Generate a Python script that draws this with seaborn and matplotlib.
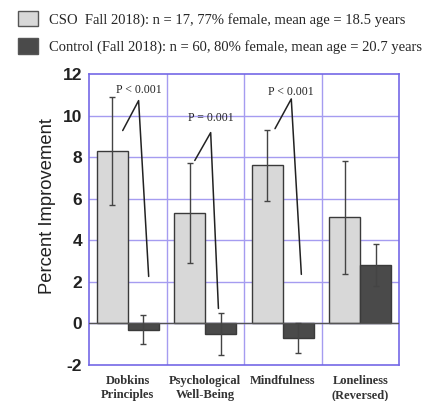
import matplotlib
matplotlib.use("Agg")
import matplotlib.pyplot as plt
import seaborn as sns
import pandas as pd
import numpy as np

categories = ["Dobkins\nPrinciples", "Psychological\nWell-Being", "Mindfulness", "Loneliness\n(Reversed)"]
groups = ["CSO", "Control"]
cso_values = [8.3, 5.3, 7.6, 5.1]
cso_errors = [2.6, 2.4, 1.7, 2.7]
control_values = [-0.3, -0.5, -0.7, 2.8]
control_errors = [0.7, 1.0, 0.7, 1.0]
legend_labels = ["CSO  Fall 2018): n = 17, 77% female, mean age = 18.5 years",
                 "Control (Fall 2018): n = 60, 80% female, mean age = 20.7 years"]
p_labels = ["P < 0.001", "P = 0.001", "P < 0.001"]
y_ticks = [-2, 0, 2, 4, 6, 8, 10, 12]

df = pd.DataFrame({
    "category": categories * 2,
    "group": [groups[0]] * 4 + [groups[1]] * 4,
    "value": cso_values + control_values,
})

sns.set_style("white")
fig = plt.figure(figsize=(4.38, 4.01), dpi=100)
ax = fig.add_axes([89/438, 1-365/401, (399-89)/438, (365-74)/401])

palette = {"CSO": "#d8d8d8", "Control": "#4a4a4a"}
sns.barplot(data=df, x="category", y="value", hue="group", palette=palette,
            order=categories, hue_order=groups, width=0.8, gap=0,
            edgecolor="#3a3a3a", linewidth=1.0, errorbar=None, ax=ax, zorder=3)

grid_c = "#a59cf0"
spine_c = "#7468e6"
ax.set_xlim(-0.5, 3.5)
ax.set_ylim(-2, 12)
ax.set_yticks(y_ticks)
for yv in y_ticks[1:-1]:
    ax.axhline(yv, color=grid_c, lw=1.0, zorder=1)
for xv in [0.5, 1.5, 2.5]:
    ax.axvline(xv, color=grid_c, lw=1.0, zorder=1)
ax.axhline(0, color="#555555", lw=1.0, zorder=4)
for s in ax.spines.values():
    s.set_color(spine_c)
    s.set_linewidth(1.2)
    s.set_visible(True)

# error bars from bar positions
bars = ax.patches[:8]
errs = cso_errors + control_errors
vals = cso_values + control_values
xs = [b.get_x() + b.get_width()/2 for b in bars]
ax.errorbar(xs, vals, yerr=errs, fmt="none", ecolor="#444444", elinewidth=1.0,
            capsize=2, capthick=1.0, zorder=5)

# p-value annotations
ann = [
    (0, [-0.065, 0.14, 0.27], [9.28, 10.72, 2.26], 10.95, p_labels[0]),
    (1, [-0.135, 0.07, 0.17], [7.84, 9.18, 0.72], 9.6, p_labels[1]),
    (2, [-0.10, 0.11, 0.24], [9.37, 10.8, 2.36], 10.85, p_labels[2]),
]
for c, dx, yy, ty, lab in ann:
    ax.plot([c + d for d in dx], yy, color="#222222", lw=1.1, zorder=6)
    ax.text(c + dx[1], ty, lab, ha="center", va="bottom", fontsize=8.5,
            family="Liberation Serif", color="#222222", zorder=6)

ax.set_xlabel("")
ax.set_ylabel("Percent Improvement", fontsize=13.2, family="Liberation Sans",
              color="#222222")
ax.yaxis.set_label_coords(-33/310, (365-206)/291)
ax.tick_params(axis="both", length=0, pad=5)
ax.set_yticklabels([str(t) for t in y_ticks], fontsize=12.5, fontweight="bold",
                   family="Liberation Sans", color="#222222")
ax.set_xticks(range(4))
ax.set_xticklabels(categories, fontsize=9, family="Liberation Serif",
                   fontweight="bold", color="#333333", linespacing=1.2)
ax.tick_params(axis="x", pad=7.5)

# legend
if ax.get_legend() is not None:
    ax.get_legend().remove()
handles = [matplotlib.patches.Patch(facecolor=palette[g], edgecolor="#555555", linewidth=1.0) for g in groups]
fig.legend(handles, legend_labels, loc="upper left", bbox_to_anchor=(12/438, 1-5/401),
           frameon=False, prop={"family": "Liberation Serif", "size": 10.5},
           handlelength=1.4, handleheight=1.25, handletextpad=0.75, labelspacing=0.8,
           borderaxespad=0)

fig.savefig("out.png", dpi=100)
